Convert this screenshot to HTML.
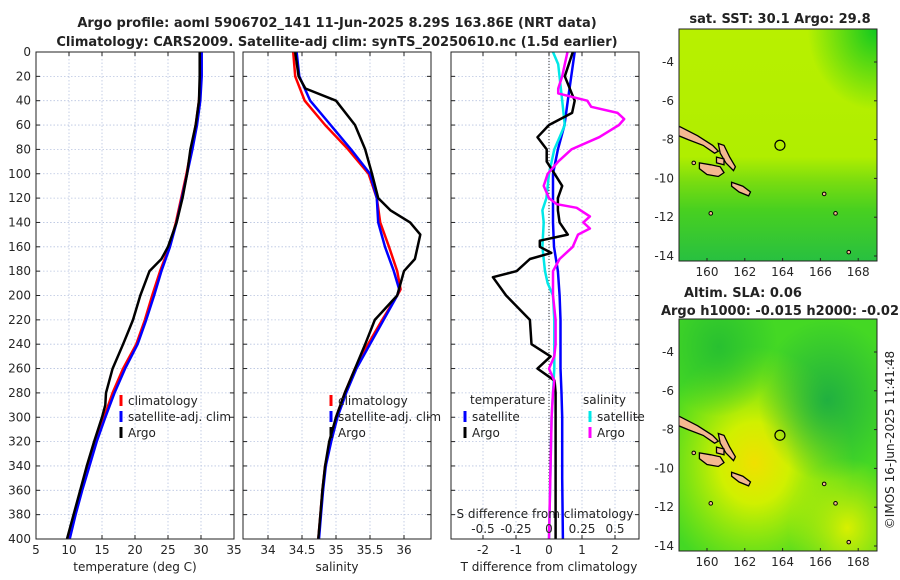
<!DOCTYPE html>
<html><head><meta charset="utf-8"><style>
html,body{margin:0;padding:0;background:#fff;}
svg{display:block;font-family:"DejaVu Sans","Liberation Sans",sans-serif;}
</style></head><body>
<svg id="chart" width="900" height="580" viewBox="0 0 900 580" xmlns="http://www.w3.org/2000/svg">
<defs>
<linearGradient id="sstg" x1="0" y1="0" x2="0" y2="1">
<stop offset="0" stop-color="#b8f000"/><stop offset="0.55" stop-color="#b0ee00"/><stop offset="0.66" stop-color="#78dc10"/><stop offset="0.78" stop-color="#48d020"/><stop offset="1" stop-color="#28c040"/>
</linearGradient>
<radialGradient id="sstcorner" cx="1" cy="0" r="0.35"><stop offset="0" stop-color="#10c820"/><stop offset="1" stop-color="#10c820" stop-opacity="0"/></radialGradient>
<radialGradient id="slayel" cx="0.38" cy="0.62" r="0.5"><stop offset="0" stop-color="#f0e000"/><stop offset="0.35" stop-color="#d0f000"/><stop offset="1" stop-color="#b0f000" stop-opacity="0"/></radialGradient>
<radialGradient id="sladark" cx="0.75" cy="0.35" r="0.35"><stop offset="0" stop-color="#20b040"/><stop offset="1" stop-color="#20b040" stop-opacity="0"/></radialGradient>
<radialGradient id="sladark2" cx="0.2" cy="0.12" r="0.3"><stop offset="0" stop-color="#28c030"/><stop offset="1" stop-color="#28c030" stop-opacity="0"/></radialGradient>
<radialGradient id="slabot" cx="0.85" cy="0.9" r="0.3"><stop offset="0" stop-color="#d8f000"/><stop offset="1" stop-color="#d8f000" stop-opacity="0"/></radialGradient>
<clipPath id="clip1"><rect x="679" y="29" width="198" height="232"/></clipPath>
<clipPath id="clip2"><rect x="679" y="319" width="198" height="232"/></clipPath>
</defs>
<g id="root"></g>
</svg>
<script>
// ---------- data ----------
const depthTicks = [0,20,40,60,80,100,120,140,160,180,200,220,240,260,280,300,320,340,360,380,400];
const tempTicks = [5,10,15,20,25,30,35];
const salTicks = [34,34.5,35,35.5,36];
const tdiffTicks = [-2,-1,0,1,2];
const sdiffTicks = [-0.5,-0.25,0,0.25,0.5];
const sdiffTickLabels = ["-0.5","-0.25","0","0.25","0.5"];

const profDepths = [0,20,40,60,80,100,120,140,160,180,200,220,240,260,280,300,320,340,360,380,400];
const tempClim = [29.9,29.9,29.7,29.2,28.5,27.8,27.0,26.2,25.2,23.8,22.6,21.5,20.2,18.2,16.6,15.3,14.0,12.9,11.8,10.8,9.9];
const tempSat  = [30.1,30.1,29.9,29.4,28.7,27.9,27.1,26.3,25.3,24.0,22.9,21.7,20.4,18.5,16.9,15.5,14.2,13.1,12.0,11.0,10.1];

const argoTDepths = [0,20,40,60,80,100,120,140,160,170,180,190,200,220,240,260,280,290,300,320,340,360,380,400];
const tempArgo = [29.8,29.8,29.7,29.2,28.4,27.9,27.2,26.3,25.0,24.0,22.2,21.5,20.8,19.7,18.2,16.6,15.6,15.5,15.0,13.8,12.7,11.7,10.7,9.7];

const salDepths = [0,20,40,60,80,100,120,140,160,180,195,200,220,240,260,280,300,320,340,360,380,400];
const salClim = [34.37,34.40,34.54,34.84,35.18,35.48,35.6,35.65,35.78,35.9,35.95,35.9,35.68,35.47,35.28,35.13,35.0,34.92,34.84,34.8,34.77,34.74];
const salSat  = [34.42,34.46,34.62,34.92,35.22,35.5,35.6,35.62,35.72,35.85,35.93,35.9,35.7,35.5,35.3,35.15,35.02,34.93,34.85,34.81,34.78,34.75];

const argoSDepths = [0,20,30,40,60,80,100,120,130,140,150,160,170,180,200,220,240,260,280,300,320,340,360,380,400];
const salArgo = [34.40,34.45,34.55,35.0,35.28,35.43,35.53,35.62,35.8,36.09,36.24,36.2,36.16,36.0,35.9,35.57,35.43,35.28,35.13,35.0,34.9,34.84,34.8,34.77,34.74];

const tdArgoDepths = [0,20,40,50,60,70,80,90,100,110,120,130,140,150,155,160,165,170,180,185,200,220,240,250,260,270,280,300,350,400];
const tdArgo = [0.72,0.48,0.78,0.7,0.0,-0.35,-0.07,-0.07,0.17,0.4,0.27,0.27,0.32,0.57,-0.28,-0.28,0.07,-0.58,-0.98,-1.7,-1.3,-0.58,-0.53,0.05,-0.35,0.17,0.2,0.2,0.2,0.2];
const tdSatDepths = [0,40,60,80,100,120,140,160,180,200,220,240,260,280,300,350,400];
const tdSat = [0.78,0.57,0.47,0.27,0.12,0.12,0.12,0.15,0.27,0.32,0.35,0.35,0.35,0.38,0.4,0.4,0.42];
const sdSatDepths = [0,10,40,60,70,80,100,120,130,140,160,180,190,200,220,260,280,300,350,400];
const sdSat = [0.03,0.07,0.1,0.12,0.08,0.04,0.0,-0.02,-0.05,-0.04,-0.05,-0.03,-0.01,0.03,0.04,0.04,0.03,0.02,0.01,0.0];
const sdArgoDepths = [0,10,20,30,34,40,45,50,55,60,70,80,90,100,110,120,125,128,135,140,145,150,160,170,180,200,220,240,250,260,270,280,300,350,400];
const sdArgo = [0.14,0.12,0.1,0.07,0.07,0.29,0.32,0.52,0.57,0.53,0.38,0.17,0.07,-0.01,-0.04,0.0,0.06,0.21,0.31,0.26,0.31,0.22,0.18,0.08,0.03,0.03,0.05,0.05,0.04,0.0,0.04,0.03,0.02,0.01,0.0];

const lonTicks = [160,162,164,166,168];
const latTicks = [-4,-6,-8,-10,-12,-14];
const argoLon = 163.86, argoLat = -8.29;

// ---------- helpers ----------
const NS = "http://www.w3.org/2000/svg";
const root = document.getElementById('root');
function mk(tag, attrs, parent, text){
  const e = document.createElementNS(NS, tag);
  for (const k in attrs) e.setAttribute(k, attrs[k]);
  if (text !== undefined) e.textContent = text;
  (parent||root).appendChild(e);
  return e;
}
const Y0 = 52, Y1 = 539;
const yD = d => Y0 + d/400*(Y1-Y0);
const xT = v => 36 + (v-5)*6.6;
const xS = v => 268 + (v-34)*68;
const xTD = v => 549 + v*33;
const xSD = v => 549 + v*132;

function panel(x0, x1, name){
  const g = mk('g', {});
  
  
  mk('rect', {x:x0, y:Y0, width:x1-x0, height:Y1-Y0, fill:'#fff'}, g);
  return g;
}
function gridH(g, x0, x1){
  depthTicks.forEach(d => {
    const l = mk('line', {x1:x0, x2:x1, y1:yD(d), y2:yD(d), stroke:'#b8c4e0', 'stroke-width':0.8, 'stroke-dasharray':'1.5,2'}, g);
    
    
    mk('line', {x1:x0, x2:x0+4, y1:yD(d), y2:yD(d), stroke:'#222'}, g);
    mk('line', {x1:x1-4, x2:x1, y1:yD(d), y2:yD(d), stroke:'#222'}, g);
  });
}
function gridV(g, ticks, fx, labels, ly){
  ticks.forEach((t,i) => {
    const x = fx(t);
    const l = mk('line', {x1:x, x2:x, y1:Y0, y2:Y1, stroke:'#b8c4e0', 'stroke-width':0.8, 'stroke-dasharray':'1.5,2'}, g);
    
    
    mk('line', {x1:x, x2:x, y1:Y1-4, y2:Y1, stroke:'#222'}, g);
    mk('line', {x1:x, x2:x, y1:Y0, y2:Y0+4, stroke:'#222'}, g);
    if (labels){
      const tx = mk('text', {x:x, y:ly, 'font-size':12, fill:'#262626', 'text-anchor':'middle'}, g, labels[i]);
      
      
    }
  });
}
function line(g, depths, vals, fx, color, name, w){
  const pts = depths.map((d,i) => fx(vals[i]).toFixed(1)+','+yD(d).toFixed(1)).join(' ');
  const p = mk('polyline', {points:pts, fill:'none', stroke:color, 'stroke-width':w||2.5, 'stroke-linejoin':'round'}, g);
  
  
}
function frame(g, x0, x1){
  mk('rect', {x:x0, y:Y0, width:x1-x0, height:Y1-Y0, fill:'none', stroke:'#222', 'stroke-width':1}, g);
}
function legend(g, x, y, color, label, name){
  const m = mk('rect', {x:x-1.5, y:y-8, width:3, height:11, fill:color}, g);
  
  
  const t = mk('text', {x:x+7, y:y+2, 'font-size':12, fill:'#222'}, g, label);
  
  
}
function label(x, y, txt, name, opts){
  const a = Object.assign({x:x, y:y, 'font-size':12, fill:'#222', 'text-anchor':'middle'}, opts||{});
  const t = mk('text', a, root, txt);
  
  
  return t;
}

// ---------- titles ----------
label(337, 27, 'Argo profile: aoml 5906702_141 11-Jun-2025 8.29S 163.86E (NRT data)', 'title-line-1', {'font-weight':'bold', 'font-size':13});
label(337, 46, 'Climatology: CARS2009. Satellite-adj clim: synTS_20250610.nc (1.5d earlier)', 'title-line-2', {'font-weight':'bold', 'font-size':13});

// ---------- panel 1: temperature ----------
let g1 = panel(36, 234, 'temperature-panel');
gridV(g1, tempTicks, xT, tempTicks.map(String), 554);
gridH(g1, 36, 234);
depthTicks.forEach(d => {
  const t = mk('text', {x:31, y:yD(d)+4, 'font-size':12, fill:'#262626', 'text-anchor':'end'}, root, String(d));
  
  
});
line(g1, profDepths, tempClim, xT, '#ff0000', 'temp-climatology-line');
line(g1, profDepths, tempSat, xT, '#0000ff', 'temp-satellite-line');
line(g1, argoTDepths, tempArgo, xT, '#000000', 'temp-argo-line');
legend(g1, 121, 403, '#ff0000', 'climatology', 'legend-climatology');
legend(g1, 121, 419, '#0000ff', 'satellite-adj. clim', 'legend-satellite');
legend(g1, 121, 435, '#000000', 'Argo', 'legend-argo');
frame(g1, 36, 234);
label(135, 571, 'temperature (deg C)', 'x-axis-title-temperature');

// ---------- panel 2: salinity ----------
let g2 = panel(243, 431, 'salinity-panel');
gridV(g2, salTicks, xS, salTicks.map(String), 554);
gridH(g2, 243, 431);
line(g2, salDepths, salClim, xS, '#ff0000', 'sal-climatology-line');
line(g2, salDepths, salSat, xS, '#0000ff', 'sal-satellite-line');
line(g2, argoSDepths, salArgo, xS, '#000000', 'sal-argo-line');
legend(g2, 331, 403, '#ff0000', 'climatology', 'legend-climatology-sal');
legend(g2, 331, 419, '#0000ff', 'satellite-adj. clim', 'legend-satellite-sal');
legend(g2, 331, 435, '#000000', 'Argo', 'legend-argo-sal');
frame(g2, 243, 431);
label(337, 571, 'salinity', 'x-axis-title-salinity');

// ---------- panel 3: differences ----------
let g3 = panel(451, 639, 'difference-panel');
gridV(g3, tdiffTicks, xTD, tdiffTicks.map(String), 554);
gridH(g3, 451, 639);
mk('line', {x1:xTD(0), x2:xTD(0), y1:Y0, y2:Y1, stroke:'#333', 'stroke-width':1, 'stroke-dasharray':'1,2'}, g3);
line(g3, tdSatDepths, tdSat, xTD, '#0000ff', 'tdiff-satellite-line');
line(g3, sdSatDepths, sdSat, xSD, '#00e8e8', 'sdiff-satellite-line');
line(g3, tdArgoDepths, tdArgo, xTD, '#000000', 'tdiff-argo-line');
line(g3, sdArgoDepths, sdArgo, xSD, '#ff00ff', 'sdiff-argo-line');
let tl = mk('text', {x:470, y:404, 'font-size':12, fill:'#222'}, g3, 'temperature');


let sl = mk('text', {x:583, y:404, 'font-size':12, fill:'#222'}, g3, 'salinity');


legend(g3, 465, 419, '#0000ff', 'satellite', 'legend-tdiff-satellite');
legend(g3, 465, 435, '#000000', 'Argo', 'legend-tdiff-argo');
legend(g3, 590, 419, '#00e8e8', 'satellite', 'legend-sdiff-satellite');
legend(g3, 590, 435, '#ff00ff', 'Argo', 'legend-sdiff-argo');
let st = mk('text', {x:545, y:518, 'font-size':12, fill:'#222', 'text-anchor':'middle'}, g3, 'S difference from climatology');


sdiffTicks.forEach((t,i) => {
  const tx = mk('text', {x:xSD(t), y:533, 'font-size':12, fill:'#262626', 'text-anchor':'middle'}, g3, sdiffTickLabels[i]);
  
  
});
frame(g3, 451, 639);
label(549, 571, 'T difference from climatology', 'x-axis-title-tdiff');

// ---------- maps ----------
const MX0 = 679, MX1 = 877;
const xLon = lon => 707 + (lon-160)*18.9;
const islands = [
  [[158.5,-7.3],[159.5,-7.8],[160.3,-8.3],[160.6,-8.6],[160.4,-8.7],[159.8,-8.3],[159.0,-8.0],[158.5,-7.8]],
  [[159.6,-9.2],[160.2,-9.3],[160.7,-9.4],[160.9,-9.7],[160.6,-9.9],[160.0,-9.8],[159.6,-9.5]],
  [[160.6,-8.2],[160.9,-8.3],[161.2,-8.9],[161.5,-9.4],[161.4,-9.6],[161.0,-9.2],[160.7,-8.7]],
  [[161.3,-10.2],[161.9,-10.4],[162.3,-10.7],[162.2,-10.9],[161.7,-10.7],[161.3,-10.4]],
  [[160.5,-8.9],[160.9,-9.0],[160.9,-9.3],[160.5,-9.2]]
];
function drawMap(y0, y1, yLat, name, fills, clip){
  const g = mk('g', {'clip-path':'url(#'+clip+')'});
  
  
  fills.forEach(f => mk('rect', {x:MX0, y:y0, width:MX1-MX0, height:y1-y0, fill:f}, g));
  islands.forEach(poly => {
    const p = mk('polygon', {points: poly.map(q => xLon(q[0]).toFixed(1)+','+yLat(q[1]).toFixed(1)).join(' '), fill:'#f4b890', stroke:'#000', 'stroke-width':1.3}, g);
    
    
  });
  [[166.2,-10.8],[166.8,-11.8],[167.5,-13.8],[160.2,-11.8],[159.3,-9.2]].forEach(q => {
    mk('circle', {cx:xLon(q[0]), cy:yLat(q[1]), r:1.8, fill:'#f4b890', stroke:'#000'}, g);
  });
  const c = mk('circle', {cx:xLon(argoLon), cy:yLat(argoLat), r:5, fill:'none', stroke:'#000', 'stroke-width':1.2}, g);
  
  
  mk('rect', {x:MX0, y:y0, width:MX1-MX0, height:y1-y0, fill:'none', stroke:'#222'}, root);
  lonTicks.forEach(l => {
    mk('line', {x1:xLon(l), x2:xLon(l), y1:y1, y2:y1-3, stroke:'#222'}, root);
    const t = mk('text', {x:xLon(l), y:y1+15, 'font-size':12, fill:'#262626', 'text-anchor':'middle'}, root, String(l));
    
    
  });
  latTicks.forEach(l => {
    mk('line', {x1:MX1, x2:MX1-3, y1:yLat(l), y2:yLat(l), stroke:'#222'}, root);
    const t = mk('text', {x:674, y:yLat(l)+4, 'font-size':12, fill:'#262626', 'text-anchor':'end'}, root, String(l));
    
    
  });
}
drawMap(29, 261, lat => 62 + (-4-lat)*19.4, 'sst-map', ['url(#sstg)','url(#sstcorner)'], 'clip1');
drawMap(319, 551, lat => 352 + (-4-lat)*19.4, 'sla-map', ['#44d824','url(#slayel)','url(#slabot)','url(#sladark)','url(#sladark2)'], 'clip2');
label(780, 23, 'sat. SST: 30.1  Argo: 29.8', 'sst-map-title', {'font-weight':'bold', 'font-size':13});
label(684, 297, 'Altim. SLA: 0.06', 'sla-map-title', {'font-weight':'bold', 'text-anchor':'start', 'font-size':13});
label(780, 315, 'Argo h1000: -0.015 h2000: -0.02', 'sla-map-subtitle', {'font-weight':'bold', 'font-size':13});
label(894, 440, '©IMOS 16-Jun-2025 11:41:48', 'imos-timestamp', {'font-size':12, transform:'rotate(-90 894 440)'});
</script>
</body></html>
